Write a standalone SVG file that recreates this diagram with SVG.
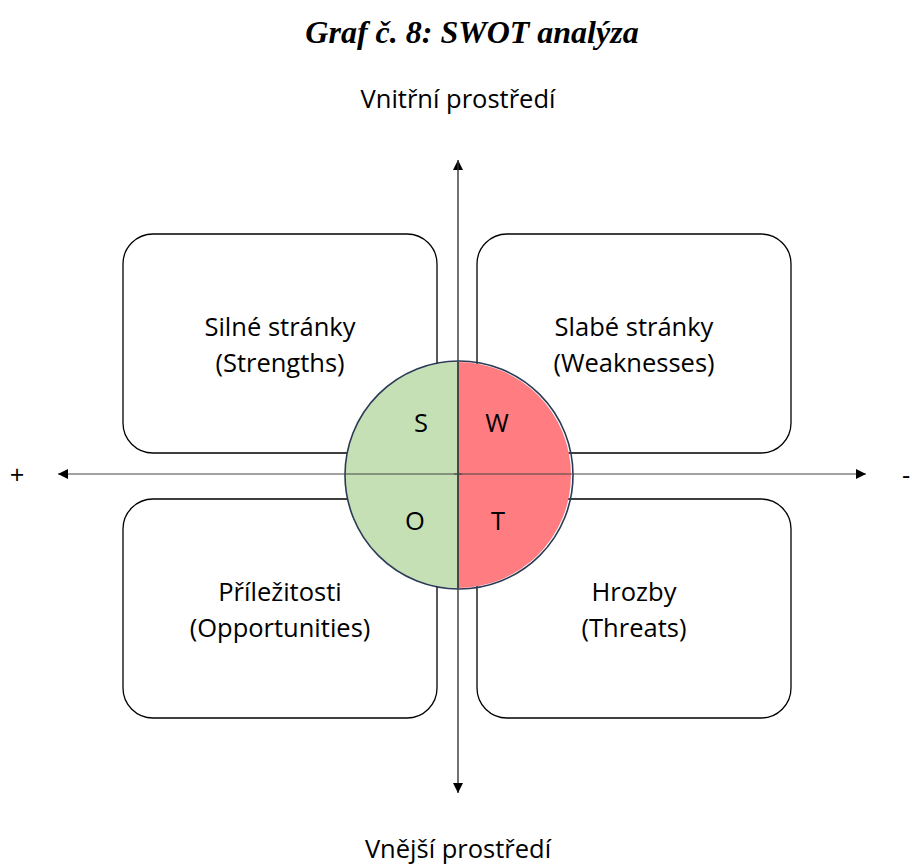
<svg xmlns="http://www.w3.org/2000/svg" width="912" height="868" viewBox="0 0 912 868">
  <style>
    .box { fill: #ffffff; stroke: #000000; stroke-width: 1.3; }
    .lbl { font-family: "Open Sans", "Noto Sans", sans-serif; font-size: 25.5px; fill: #000000; text-anchor: middle; }
    .axis { stroke: #444444; stroke-width: 1; fill: none; }
    .title { font-family: "Liberation Serif", serif; font-weight: bold; font-style: italic; font-size: 32px; text-anchor: middle; }
  </style>
  <defs>
    <marker id="arrow" viewBox="0 0 10 10" refX="10" refY="5" markerWidth="10" markerHeight="10" markerUnits="userSpaceOnUse" orient="auto">
      <path d="M0,0 L10,5 L0,10 Z" fill="#000000"/>
    </marker>
  </defs>
  <rect width="912" height="868" fill="#ffffff"/>

  <text class="title" x="472" y="43">Graf č. 8: SWOT analýza</text>
  <text class="lbl" x="458" y="108">Vnitřní prostředí</text>
  <text class="lbl" x="458" y="858">Vnější prostředí</text>
  <text class="lbl" x="17" y="484">+</text>
  <text class="lbl" x="906" y="484">-</text>

  <g id="strengths">
    <rect class="box" x="123" y="234" width="314" height="219" rx="30"/>
    <text class="lbl" x="280" y="336">Silné stránky</text>
    <text class="lbl" x="280" y="372">(Strengths)</text>
  </g>
  <g id="weaknesses">
    <rect class="box" x="477" y="234" width="314" height="219" rx="30"/>
    <text class="lbl" x="634" y="336">Slabé stránky</text>
    <text class="lbl" x="634" y="372">(Weaknesses)</text>
  </g>
  <g id="opportunities">
    <rect class="box" x="123" y="499" width="314" height="219" rx="30"/>
    <text class="lbl" x="280" y="601">Příležitosti</text>
    <text class="lbl" x="280" y="637">(Opportunities)</text>
  </g>
  <g id="threats">
    <rect class="box" x="477" y="499" width="314" height="219" rx="30"/>
    <text class="lbl" x="634" y="601">Hrozby</text>
    <text class="lbl" x="634" y="637">(Threats)</text>
  </g>

  <g id="swot-circle">
    <path d="M458,362 A113,113 0 0 0 458,588 Z" fill="#C5E0B4"/>
    <path d="M458,362 A113,113 0 0 1 458,588 Z" fill="#FF7C80"/>
    <circle cx="459" cy="475" r="114" fill="none" stroke="#2B3A55" stroke-width="1.6"/>
    <line x1="458" y1="362" x2="458" y2="588" stroke="#2B3A55" stroke-width="1.6"/>
    <text class="lbl" x="421" y="432">S</text>
    <text class="lbl" x="497" y="432">W</text>
    <text class="lbl" x="415" y="530">O</text>
    <text class="lbl" x="498" y="530">T</text>
  </g>

  <g id="connectors">
    <line class="axis" x1="458" y1="793" x2="458" y2="160" marker-end="url(#arrow)"/>
    <line class="axis" x1="458" y1="160" x2="458" y2="793" marker-end="url(#arrow)"/>
    <line class="axis" x1="462" y1="474" x2="58" y2="474" marker-end="url(#arrow)"/>
    <line class="axis" x1="454" y1="474" x2="866" y2="474" marker-end="url(#arrow)"/>
  </g>
</svg>
